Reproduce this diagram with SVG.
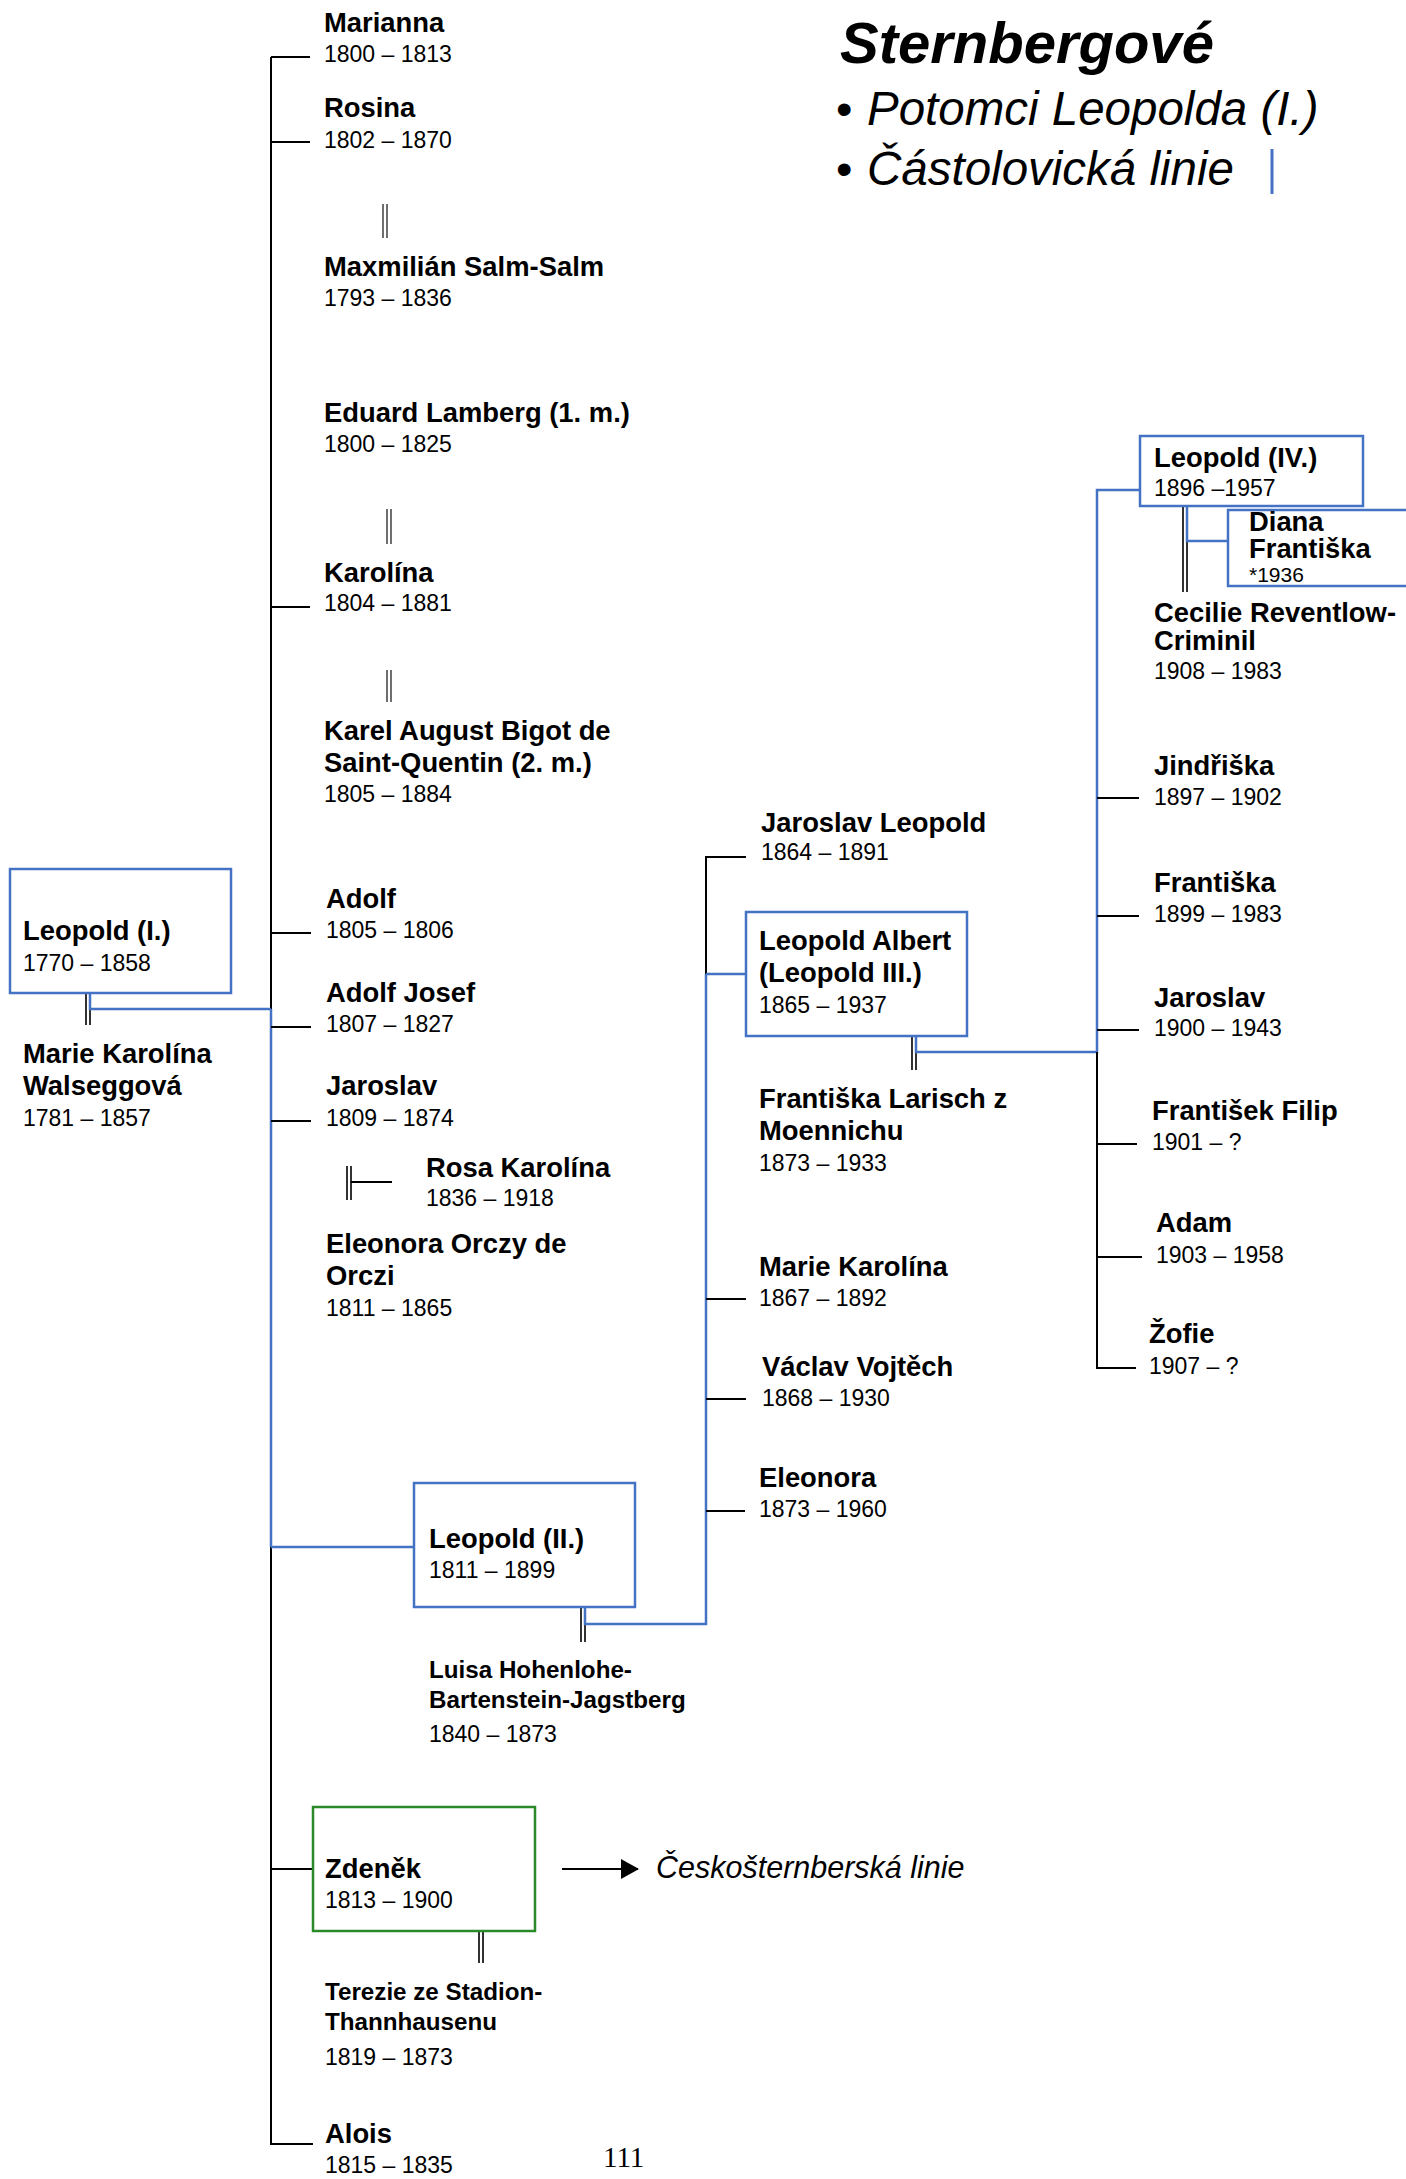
<svg xmlns="http://www.w3.org/2000/svg" width="1406" height="2179" viewBox="0 0 1406 2179">
<style>
text { font-family: "Liberation Sans", Arial, sans-serif; fill: #000; }
.n { font-size: 27.4px; font-weight: bold; }
.d { font-size: 23px; }
.s { font-size: 24.2px; font-weight: bold; }
.ln { stroke: #000; stroke-width: 2; fill: none; }
.bl { stroke: #4472C4; stroke-width: 2.5; fill: none; }
.box { fill: #fff; stroke: #4472C4; stroke-width: 2.5; }
.gbox { fill: #fff; stroke: #2a8a2a; stroke-width: 2.5; }
.mar { stroke: #000; stroke-width: 1.6; fill: none; }
.marl { stroke: #222; stroke-width: 1.3; fill: none; }
</style>
<defs>
<marker id="arr" markerWidth="18" markerHeight="20" refX="17" refY="10" orient="auto" markerUnits="userSpaceOnUse">
<path d="M0,0 L18,10 L0,20 Z" fill="#000"/>
</marker>
</defs>
<rect width="1406" height="2179" fill="#fff"/>

<g id="title">
<text x="840" y="63" style="font-size:58px;font-weight:bold;font-style:italic">Sternbergové</text>
<text x="836" y="125" style="font-size:47px">•</text>
<text x="867" y="125" style="font-size:47.5px;font-style:italic">Potomci Leopolda (I.)</text>
<text x="836" y="185" style="font-size:47px">•</text>
<text x="867" y="185" style="font-size:47.5px;font-style:italic">Částolovická linie</text>
<line x1="1272" y1="149" x2="1272" y2="194" stroke="#4472C4" stroke-width="3"/>
</g>

<g id="connectors">
<path class="ln" d="M271,57 V1009"/>
<path class="bl" d="M271,1009 V1547"/>
<path class="ln" d="M271,1547 V2144 H313"/>
<path class="ln" d="M271,57 H310"/>
<path class="ln" d="M271,142 H310"/>
<path class="ln" d="M271,607 H310"/>
<path class="ln" d="M271,933 H311"/>
<path class="ln" d="M271,1027 H311"/>
<path class="ln" d="M271,1121 H311"/>
<path class="bl" d="M271,1547 H414"/>
<path class="ln" d="M271,1869 H313"/>
<path class="mar" d="M86,993 V1025 M90,993 V1025"/>
<path class="bl" d="M90,993 V1009 H271"/>
<path class="marl" d="M383,204 V238 M387,204 V238"/>
<path class="marl" d="M387,509 V544 M391,509 V544"/>
<path class="marl" d="M387,670 V702 M391,670 V702"/>
<path class="mar" d="M347,1166 V1200 M351,1166 V1200"/>
<path class="ln" d="M351,1182 H392"/>
<path class="mar" d="M581,1607 V1642 M585,1607 V1642"/>
<path class="bl" d="M585,1607 V1624 H706 V974"/>
<path class="ln" d="M706,974 V857 H746"/>
<path class="bl" d="M706,974 H746"/>
<path class="ln" d="M706,1299 H746"/>
<path class="ln" d="M706,1399 H746"/>
<path class="ln" d="M706,1511 H745"/>
<path class="mar" d="M912,1036 V1070 M916,1036 V1070"/>
<path class="bl" d="M916,1036 V1052 H1097 V490 H1140"/>
<path class="ln" d="M1097,1052 V1368 H1136"/>
<path class="ln" d="M1097,798 H1139"/>
<path class="ln" d="M1097,916 H1139"/>
<path class="ln" d="M1097,1030 H1139"/>
<path class="ln" d="M1097,1144 H1137"/>
<path class="ln" d="M1097,1257 H1142"/>
<path class="mar" d="M1183,506 V592 M1187,506 V592"/>
<path class="bl" d="M1187,506 V541 H1228"/>
<path class="mar" d="M479,1931 V1963 M483,1931 V1963"/>
<line class="ln" x1="562" y1="1869" x2="638" y2="1869" marker-end="url(#arr)"/>
</g>

<g id="marianna"><text class="n" x="324" y="32">Marianna</text><text class="d" x="324" y="62">1800 – 1813</text></g>
<g id="rosina"><text class="n" x="324" y="117">Rosina</text><text class="d" x="324" y="148">1802 – 1870</text></g>
<g id="maxmilian"><text class="n" x="324" y="276">Maxmilián Salm-Salm</text><text class="d" x="324" y="306">1793 – 1836</text></g>
<g id="eduard"><text class="n" x="324" y="422">Eduard Lamberg (1. m.)</text><text class="d" x="324" y="452">1800 – 1825</text></g>
<g id="karolina"><text class="n" x="324" y="582">Karolína</text><text class="d" x="324" y="611">1804 – 1881</text></g>
<g id="karel"><text class="n" x="324" y="740">Karel August Bigot de</text><text class="n" x="324" y="772">Saint-Quentin (2. m.)</text><text class="d" x="324" y="802">1805 – 1884</text></g>

<g id="leopold1">
<rect class="box" x="10" y="869" width="221" height="124"/>
<text class="n" x="23" y="940">Leopold (I.)</text><text class="d" x="23" y="971">1770 – 1858</text>
</g>
<g id="marie-walseggova"><text class="n" x="23" y="1063">Marie Karolína</text><text class="n" x="23" y="1095">Walseggová</text><text class="d" x="23" y="1126">1781 – 1857</text></g>

<g id="adolf"><text class="n" x="326" y="908">Adolf</text><text class="d" x="326" y="938">1805 – 1806</text></g>
<g id="adolf-josef"><text class="n" x="326" y="1002">Adolf Josef</text><text class="d" x="326" y="1032">1807 – 1827</text></g>
<g id="jaroslav1"><text class="n" x="326" y="1095">Jaroslav</text><text class="d" x="326" y="1126">1809 – 1874</text></g>
<g id="rosa"><text class="n" x="426" y="1177">Rosa Karolína</text><text class="d" x="426" y="1206">1836 – 1918</text></g>
<g id="eleonora-orczy"><text class="n" x="326" y="1253">Eleonora Orczy de</text><text class="n" x="326" y="1285">Orczi</text><text class="d" x="326" y="1316">1811 – 1865</text></g>

<g id="leopold2">
<rect class="box" x="414" y="1483" width="221" height="124"/>
<text class="n" x="429" y="1548">Leopold (II.)</text><text class="d" x="429" y="1578">1811 – 1899</text>
</g>
<g id="luisa"><text class="s" x="429" y="1678">Luisa Hohenlohe-</text><text class="s" x="429" y="1708">Bartenstein-Jagstberg</text><text class="d" x="429" y="1742">1840 – 1873</text></g>

<g id="zdenek">
<rect class="gbox" x="313" y="1807" width="222" height="124"/>
<text class="n" x="325" y="1878">Zdeněk</text><text class="d" x="325" y="1908">1813 – 1900</text>
</g>
<g id="ceskosternberska"><text x="656" y="1878" style="font-size:30.5px;font-style:italic">Českošternberská linie</text></g>
<g id="terezie"><text class="s" x="325" y="2000">Terezie ze Stadion-</text><text class="s" x="325" y="2030">Thannhausenu</text><text class="d" x="325" y="2065">1819 – 1873</text></g>
<g id="alois"><text class="n" x="325" y="2143">Alois</text><text class="d" x="325" y="2173">1815 – 1835</text></g>

<g id="jaroslav-leopold"><text class="n" x="761" y="832">Jaroslav Leopold</text><text class="d" x="761" y="860">1864 – 1891</text></g>
<g id="leopold3">
<rect class="box" x="746" y="912" width="221" height="124"/>
<text class="n" x="759" y="950">Leopold Albert</text><text class="n" x="759" y="982">(Leopold III.)</text><text class="d" x="759" y="1013">1865 – 1937</text>
</g>
<g id="frantiska-larisch"><text class="n" x="759" y="1108">Františka Larisch z</text><text class="n" x="759" y="1140">Moennichu</text><text class="d" x="759" y="1171">1873 – 1933</text></g>
<g id="marie-karolina2"><text class="n" x="759" y="1276">Marie Karolína</text><text class="d" x="759" y="1306">1867 – 1892</text></g>
<g id="vaclav"><text class="n" x="762" y="1376">Václav Vojtěch</text><text class="d" x="762" y="1406">1868 – 1930</text></g>
<g id="eleonora2"><text class="n" x="759" y="1487">Eleonora</text><text class="d" x="759" y="1517">1873 – 1960</text></g>

<g id="leopold4">
<rect class="box" x="1140" y="436" width="223" height="70"/>
<text class="n" x="1154" y="467">Leopold (IV.)</text><text class="d" x="1154" y="496">1896 –1957</text>
</g>
<g id="diana">
<rect class="box" x="1228" y="510" width="200" height="76"/>
<text class="n" x="1249" y="531">Diana</text><text class="n" x="1249" y="558">Františka</text><text x="1249" y="582" style="font-size:21px">*1936</text>
</g>
<g id="cecilie"><text class="n" x="1154" y="622">Cecilie Reventlow-</text><text class="n" x="1154" y="650">Criminil</text><text class="d" x="1154" y="679">1908 – 1983</text></g>
<g id="jindriska"><text class="n" x="1154" y="775">Jindřiška</text><text class="d" x="1154" y="805">1897 – 1902</text></g>
<g id="frantiska2"><text class="n" x="1154" y="892">Františka</text><text class="d" x="1154" y="922">1899 – 1983</text></g>
<g id="jaroslav2"><text class="n" x="1154" y="1007">Jaroslav</text><text class="d" x="1154" y="1036">1900 – 1943</text></g>
<g id="frantisek-filip"><text class="n" x="1152" y="1120">František Filip</text><text class="d" x="1152" y="1150">1901 – ?</text></g>
<g id="adam"><text class="n" x="1156" y="1232">Adam</text><text class="d" x="1156" y="1263">1903 – 1958</text></g>
<g id="zofie"><text class="n" x="1149" y="1343">Žofie</text><text class="d" x="1149" y="1374">1907 – ?</text></g>

<g id="page-number"><text x="603" y="2167" style="font-family:'Liberation Serif','Times New Roman',serif;font-size:29px">111</text></g>
</svg>
